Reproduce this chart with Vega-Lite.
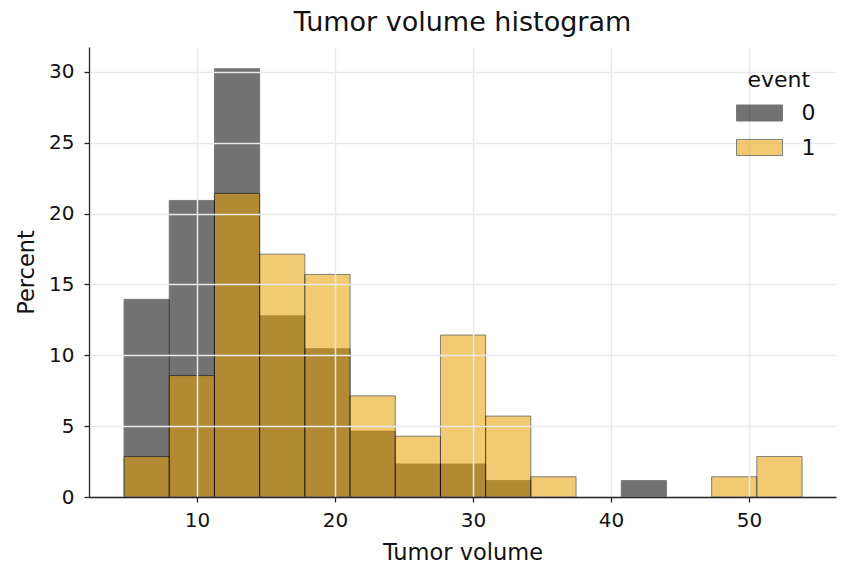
{
  "$schema": "https://vega.github.io/schema/vega-lite/v6.json",
  "width": 747,
  "height": 450,
  "autosize": {"type": "none"},
  "padding": {"left": 89, "top": 47, "right": 14, "bottom": 84},
  "background": "white",
  "title": {
    "text": "Tumor volume histogram",
    "fontSize": 27,
    "font": "DejaVu Sans",
    "fontWeight": "normal",
    "color": "#111111",
    "anchor": "middle",
    "baseline": "top",
    "offset": 10
  },
  "data": {
    "values": [
      {"bin_start": 4.71, "bin_end": 7.985, "event": "0", "percent": 13.95},
      {"bin_start": 7.985, "bin_end": 11.26, "event": "0", "percent": 20.93},
      {"bin_start": 11.26, "bin_end": 14.536, "event": "0", "percent": 30.23},
      {"bin_start": 14.536, "bin_end": 17.811, "event": "0", "percent": 12.79},
      {"bin_start": 17.811, "bin_end": 21.087, "event": "0", "percent": 10.47},
      {"bin_start": 21.087, "bin_end": 24.362, "event": "0", "percent": 4.65},
      {"bin_start": 24.362, "bin_end": 27.637, "event": "0", "percent": 2.33},
      {"bin_start": 27.637, "bin_end": 30.912, "event": "0", "percent": 2.33},
      {"bin_start": 30.912, "bin_end": 34.188, "event": "0", "percent": 1.16},
      {"bin_start": 40.739, "bin_end": 44.014, "event": "0", "percent": 1.16},
      {"bin_start": 4.71, "bin_end": 7.985, "event": "1", "percent": 2.86},
      {"bin_start": 7.985, "bin_end": 11.26, "event": "1", "percent": 8.57},
      {"bin_start": 11.26, "bin_end": 14.536, "event": "1", "percent": 21.43},
      {"bin_start": 14.536, "bin_end": 17.811, "event": "1", "percent": 17.14},
      {"bin_start": 17.811, "bin_end": 21.087, "event": "1", "percent": 15.71},
      {"bin_start": 21.087, "bin_end": 24.362, "event": "1", "percent": 7.14},
      {"bin_start": 24.362, "bin_end": 27.637, "event": "1", "percent": 4.29},
      {"bin_start": 27.637, "bin_end": 30.912, "event": "1", "percent": 11.43},
      {"bin_start": 30.912, "bin_end": 34.188, "event": "1", "percent": 5.71},
      {"bin_start": 34.188, "bin_end": 37.463, "event": "1", "percent": 1.43},
      {"bin_start": 47.289, "bin_end": 50.565, "event": "1", "percent": 1.43},
      {"bin_start": 50.565, "bin_end": 53.84, "event": "1", "percent": 2.86}
    ]
  },
  "mark": {
    "type": "bar",
    "opacity": 0.55,
    "stroke": "black",
    "strokeWidth": 0.9
  },
  "encoding": {
    "x": {
      "field": "bin_start",
      "type": "quantitative",
      "title": "Tumor volume",
      "scale": {"domain": [2.17, 56.3], "nice": false, "zero": false},
      "axis": {"values": [10, 20, 30, 40, 50], "zindex": 1, "gridZindex": 1}
    },
    "x2": {"field": "bin_end"},
    "y": {
      "field": "percent",
      "type": "quantitative",
      "title": "Percent",
      "stack": null,
      "scale": {"domain": [0, 31.76], "nice": false},
      "axis": {"values": [0, 5, 10, 15, 20, 25, 30], "zindex": 1}
    },
    "y2": {"datum": 0},
    "color": {
      "field": "event",
      "type": "nominal",
      "title": "event",
      "scale": {"domain": ["0", "1"], "range": ["#000000", "#E69F00"]},
      "legend": {
        "orient": "none",
        "legendX": 658.5,
        "legendY": 23,
        "zindex": 2,
        "symbolType": "M-2,-0.7H2V0.7H-2Z",
        "symbolSize": 529,
        "symbolOpacity": 0.55,
        "symbolStrokeColor": "black",
        "symbolStrokeWidth": 0.9,
        "labelOffset": 30,
        "rowPadding": 11.5,
        "titlePadding": 9,
        "padding": 0
      }
    }
  },
  "config": {
    "view": {"stroke": null},
    "font": "DejaVu Sans",
    "axis": {
      "zindex": 1,
      "grid": true,
      "gridColor": "#e9e9ec",
      "gridOpacity": 1,
      "gridWidth": 1.5,
      "domainColor": "#262626",
      "domainWidth": 1.3,
      "tickColor": "#262626",
      "tickWidth": 1.3,
      "tickSize": 5,
      "labelFont": "DejaVu Sans",
      "labelFontSize": 20,
      "labelColor": "#111111",
      "titleFont": "DejaVu Sans",
      "titleFontSize": 22.5,
      "titleFontWeight": "normal",
      "titleColor": "#111111"
    },
    "axisX": {"labelPadding": 8, "titlePadding": 11},
    "axisY": {"labelPadding": 10, "titlePadding": 10},
    "legend": {
      "titleFont": "DejaVu Sans",
      "titleFontSize": 22,
      "titleFontWeight": "normal",
      "titleColor": "#111111",
      "labelFont": "DejaVu Sans",
      "labelFontSize": 22,
      "labelColor": "#111111"
    }
  }
}
